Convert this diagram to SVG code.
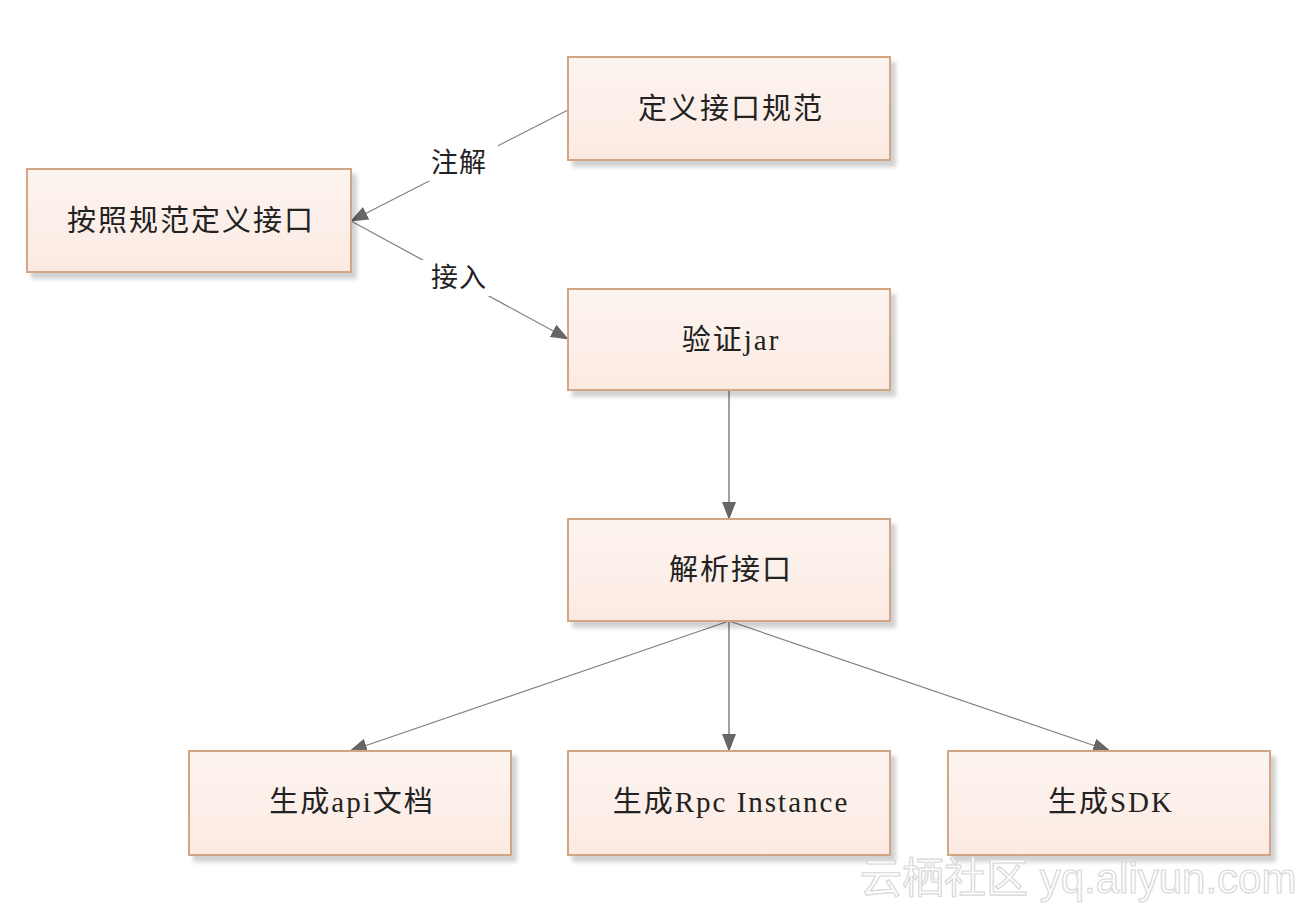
<svg xmlns="http://www.w3.org/2000/svg" width="1300" height="910" viewBox="0 0 1300 910">
<defs>
<linearGradient id="g" x1="0" y1="0" x2="0" y2="1">
<stop offset="0" stop-color="#fdf4f0"/>
<stop offset="1" stop-color="#fbeae2"/>
</linearGradient>
<filter id="sh" x="-5%" y="-5%" width="115%" height="125%">
<feGaussianBlur in="SourceAlpha" stdDeviation="2"/>
<feOffset dx="5" dy="6" result="b"/>
<feComponentTransfer><feFuncA type="linear" slope="0.18"/></feComponentTransfer>
<feMerge><feMergeNode/><feMergeNode in="SourceGraphic"/></feMerge>
</filter>
<marker id="ar" markerWidth="18" markerHeight="14" refX="17" refY="7" orient="auto" markerUnits="userSpaceOnUse">
<path d="M0,0 L18,7 L0,14 Z" fill="#666"/>
</marker>
</defs>
<style>
.box{fill:url(#g);stroke:#d2a585;stroke-width:2;filter:url(#sh)}
.t{font-family:"Liberation Serif","Noto Sans CJK SC",serif;font-size:29px;letter-spacing:2px;fill:#222;text-anchor:middle;dominant-baseline:central}
.c{stroke:#808080;stroke-width:1.2;fill:none;marker-end:url(#ar)}
.v{stroke:#a0a0a0;stroke-width:2;fill:none;marker-end:url(#ar)}
.lbl{font-family:"Liberation Serif","Noto Sans CJK SC",serif;font-size:27px;letter-spacing:1px;fill:#222;text-anchor:middle;dominant-baseline:central}
.wm{font-family:"Liberation Sans","Noto Sans CJK SC",sans-serif;font-size:42px;fill:#fff;stroke:#d8d8d8;stroke-width:1.2}
</style>
<rect width="1300" height="910" fill="#fff"/>
<g id="connectors">
<line class="c" x1="568" y1="110" x2="351" y2="221"/>
<line class="c" x1="351" y1="221" x2="568" y2="339"/>
<line class="v" x1="729" y1="390" x2="729" y2="519"/>
<line class="c" x1="729" y1="621" x2="350" y2="751"/>
<line class="v" x1="729" y1="621" x2="729" y2="751"/>
<line class="c" x1="729" y1="621" x2="1110" y2="751"/>
<rect x="418" y="145" width="80" height="36" fill="#fff"/>
<text class="lbl" x="459" y="163">注解</text>
<rect x="418" y="260" width="80" height="36" fill="#fff"/>
<text class="lbl" x="459" y="278">接入</text>
</g>
<g id="n1"><rect class="box" x="568" y="57" width="322" height="103"/><text class="t" x="731" y="109">定义接口规范</text></g>
<g id="n2"><rect class="box" x="27" y="169" width="324" height="103"/><text class="t" x="191" y="221">按照规范定义接口</text></g>
<g id="n3"><rect class="box" x="568" y="289" width="322" height="101"/><text class="t" x="731" y="340">验证jar</text></g>
<g id="n4"><rect class="box" x="568" y="519" width="322" height="102"/><text class="t" x="731" y="570">解析接口</text></g>
<g id="n5"><rect class="box" x="189" y="751" width="322" height="104"/><text class="t" x="352" y="802">生成api文档</text></g>
<g id="n6"><rect class="box" x="568" y="751" width="322" height="104"/><text class="t" x="731" y="802">生成Rpc Instance</text></g>
<g id="n7"><rect class="box" x="948" y="751" width="322" height="104"/><text class="t" x="1111" y="802">生成SDK</text></g>
<text class="wm" x="860" y="893">云栖社区 yq.aliyun.com</text>
</svg>
